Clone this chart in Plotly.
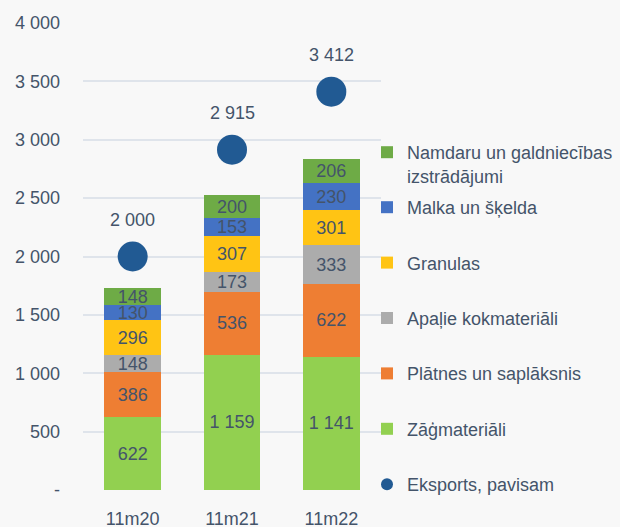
import plotly.graph_objects as go

categories = ["11m20", "11m21", "11m22"]
series_names = [
    "Zāģmateriāli",
    "Plātnes un saplāksnis",
    "Apaļie kokmateriāli",
    "Granulas",
    "Malka un šķelda",
    "Namdaru un galdniecības<br>izstrādājumi",
]
zagmaterial = [622, 1159, 1141]
platnes = [386, 536, 622]
apalie = [148, 173, 333]
granulas = [296, 307, 301]
malka = [130, 153, 230]
namdaru = [148, 200, 206]
total_name = "Eksports, pavisam"
total = [2000, 2915, 3412]
y_tickvals = [0, 500, 1000, 1500, 2000, 2500, 3000, 3500, 4000]
y_ticktext = ["-", "500", "1 000", "1 500", "2 000", "2 500", "3 000", "3 500", "4 000"]

colors = ["#92D050", "#EE7E33", "#ACACAC", "#FFC414", "#4472C4", "#6EAB46"]
values = [zagmaterial, platnes, apalie, granulas, malka, namdaru]
text_color = "#44546A"
FONT = "Liberation Sans, Arial, sans-serif"
FS = 18

fig = go.Figure()
for i, (name, vals, col) in enumerate(zip(series_names, values, colors)):
    fig.add_trace(go.Bar(
        x=categories, y=vals, name=name,
        marker=dict(color=col, line=dict(width=0)),
        width=0.57,
        texttemplate="%{y:,.0f}",
        textposition="inside",
        insidetextanchor="middle",
        textangle=0,
        constraintext="none",
        insidetextfont=dict(color=text_color, size=FS, family=FONT),
        legendrank=100 - i,
        legend="legend2" if i == 5 else "legend",
        legendgroup=name,
    ))

fig.add_trace(go.Scatter(
    x=categories, y=total, name=total_name, mode="markers",
    marker=dict(size=30, color="#215A93"),
    legendrank=200,
    legendgroup="total",
    legend="legend",
))

for c, v in zip(categories, total):
    fig.add_annotation(x=c, y=v, text=f"{v:,}".replace(",", " "), showarrow=False,
                       yshift=37, font=dict(size=FS, color=text_color, family=FONT))

fig.update_layout(
    width=620, height=527,
    margin=dict(l=83, r=239, t=23, b=37, autoexpand=False),
    paper_bgcolor="#F8F8F8", plot_bgcolor="#F8F8F8",
    barmode="stack", bargap=0.43,
    separators=", ",
    font=dict(family=FONT, size=FS, color=text_color),
    showlegend=True,
    legend=dict(
        xref="container", yref="container",
        x=367/620, y=1 - 189/527, xanchor="left", yanchor="top",
        tracegroupgap=29, itemsizing="constant", maxheight=500,
        font=dict(size=FS, color=text_color, family=FONT),
        bgcolor="rgba(0,0,0,0)", traceorder="grouped",
    ),
    legend2=dict(
        xref="container", yref="container",
        x=367/620, y=1 - 134/527, xanchor="left", yanchor="top",
        valign="top",
        font=dict(size=FS, color=text_color, family=FONT),
        bgcolor="rgba(0,0,0,0)",
    ),
)
fig.update_xaxes(
    showgrid=False, showline=False, zeroline=False, ticks="",
    automargin=False,
    ticklabelstandoff=16, tickfont=dict(size=FS, color=text_color),
)
fig.update_yaxes(
    range=[0, 4000], tickvals=y_tickvals, ticktext=y_ticktext,
    automargin=False,
    showgrid=True, gridcolor="#DFE4EB", gridwidth=2,
    zeroline=False, showline=False, ticks="",
    ticklabelstandoff=22, tickfont=dict(size=FS, color=text_color),
)

fig.write_html("out.html")
